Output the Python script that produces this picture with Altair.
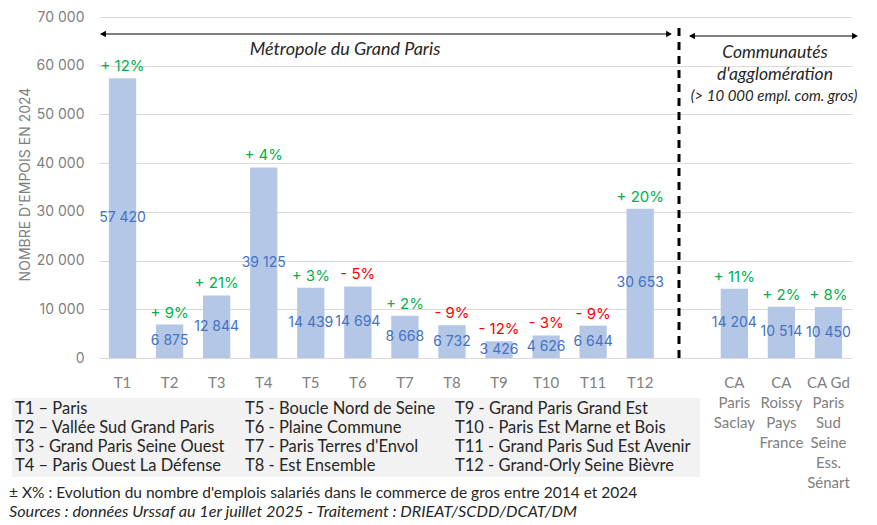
import altair as alt
import pandas as pd

# ---------------- data ----------------
categories = ["T1", "T2", "T3", "T4", "T5", "T6", "T7", "T8", "T9", "T10", "T11", "T12",
              "CA|Paris|Saclay", "CA|Roissy|Pays|France", "CA Gd|Paris|Sud|Seine|Ess.|Sénart"]
values = [57420, 6875, 12844, 39125, 14439, 14694, 8668, 6732, 3426, 4626, 6644, 30653,
          14204, 10514, 10450]
evolution = [12, 9, 21, 4, 3, -5, 2, -9, -12, -3, -9, 20, 11, 2, 8]
gap = "_"
domain = categories[:12] + [gap] + categories[12:]
y_ticks = [0, 10000, 20000, 30000, 40000, 50000, 60000, 70000]

legend_col1 = ["T1 – Paris", "T2 – Vallée Sud Grand Paris", "T3 - Grand Paris Seine Ouest",
               "T4 – Paris Ouest La Défense"]
legend_col2 = ["T5 - Boucle Nord de Seine", "T6 - Plaine Commune", "T7 - Paris Terres d'Envol",
               "T8 - Est Ensemble"]
legend_col3 = ["T9 - Grand Paris Grand Est", "T10 - Paris Est Marne et Bois",
               "T11 - Grand Paris Sud Est Avenir", "T12 - Grand-Orly Seine Bièvre"]
note1 = "± X% : Evolution du nombre d'emplois salariés dans le commerce de gros entre 2014 et 2024"
note2 = "Sources : données Urssaf au 1er juillet 2025 - Traitement : DRIEAT/SCDD/DCAT/DM"

df = pd.DataFrame({
    "cat": categories,
    "value": values,
    "evo": evolution,
})
df["half"] = df["value"] / 2
df["vlabel"] = [f"{v:,}".replace(",", " ") for v in values]
df["plabel"] = [("+ " if e >= 0 else "- ") + f"{abs(e)}%" for e in evolution]
df["pcolor"] = ["#00B050" if e >= 0 else "#FF0000" for e in evolution]

one = pd.DataFrame({"k": [0]})

NUMFONT = "Inter"
TXTFONT = "Lato"
GRAY = "#808080"
DARK = "#262626"

x_enc = alt.X(
    "cat:N",
    scale=alt.Scale(domain=domain, paddingInner=0.42, paddingOuter=0.21),
    sort=domain,
    title=None,
    axis=alt.Axis(
        labelExpr="datum.label == '_' ? '' : split(datum.label, '|')",
        labelAngle=0, labelFont=TXTFONT, labelFontSize=15, labelColor=GRAY,
        labelLineHeight=20, labelPadding=17, ticks=False, domain=False, grid=False,
    ),
)
y_enc = alt.Y(
    "value:Q",
    scale=alt.Scale(domain=[0, 70000], nice=False),
    axis=alt.Axis(
        values=y_ticks,
        labelExpr="replace(format(datum.value, ','), ',', ' ')",
        labelFont=NUMFONT, labelFontSize=14, labelColor=GRAY, labelPadding=15,
        ticks=False, domain=False, gridColor="#D9D9D9", gridWidth=1,
        title="NOMBRE D'EMPOIS EN 2024", titleFont=NUMFONT, titleFontSize=14,
        titleFontWeight="normal", titleColor=GRAY, titleAngle=270,
        titleX=-74, titleY=167, titleAlign="center", titleBaseline="middle",
    ),
)

base = alt.Chart(df)
bars = base.mark_bar(color="#B4C7E7").encode(x=x_enc, y=y_enc)
vlabels = base.mark_text(font=NUMFONT, fontSize=14, color="#4472C4", baseline="middle").encode(
    x=alt.X("cat:N", sort=domain), y=alt.Y("half:Q"), text="vlabel:N")
plabels = base.mark_text(font=NUMFONT, fontSize=15, baseline="alphabetic", dy=-7).encode(
    x=alt.X("cat:N", sort=domain), y=alt.Y("value:Q"), text="plabel:N",
    color=alt.Color("pcolor:N", scale=None))

ann = alt.Chart(one)
# dashed separator
sep = ann.mark_rule(color="black", strokeWidth=3, strokeDash=[8, 6]).encode(
    x=alt.value(580), y=alt.value(11), y2=alt.value(341))
# arrows
arr1 = ann.mark_rule(color="black", strokeWidth=1).encode(
    x=alt.value(2), x2=alt.value(571), y=alt.value(17))
arr1l = ann.mark_point(shape="triangle-left", filled=True, size=45, color="black", opacity=1).encode(
    x=alt.value(4), y=alt.value(17))
arr1r = ann.mark_point(shape="triangle-right", filled=True, size=45, color="black", opacity=1).encode(
    x=alt.value(570), y=alt.value(17))
arr2 = ann.mark_rule(color="black", strokeWidth=1).encode(
    x=alt.value(591), x2=alt.value(757), y=alt.value(19))
arr2l = ann.mark_point(shape="triangle-left", filled=True, size=45, color="black", opacity=1).encode(
    x=alt.value(593), y=alt.value(19))
arr2r = ann.mark_point(shape="triangle-right", filled=True, size=45, color="black", opacity=1).encode(
    x=alt.value(756), y=alt.value(19))

t_mgp = ann.mark_text(text="Métropole du Grand Paris", font=TXTFONT, fontSize=18, fontStyle="italic",
                      color=DARK, baseline="middle", align="center").encode(
    x=alt.value(246), y=alt.value(33))
t_ca1 = ann.mark_text(text="Communautés", font=TXTFONT, fontSize=17.5, fontStyle="italic",
                      color=DARK, baseline="middle", align="center").encode(
    x=alt.value(676), y=alt.value(36))
t_ca2 = ann.mark_text(text="d'agglomération", font=TXTFONT, fontSize=17.5, fontStyle="italic",
                      color=DARK, baseline="middle", align="center").encode(
    x=alt.value(676), y=alt.value(58))
t_ca3 = ann.mark_text(text="(> 10 000 empl. com. gros)", font=TXTFONT, fontSize=15, fontStyle="italic",
                      color=DARK, baseline="middle", align="center").encode(
    x=alt.value(675), y=alt.value(79))

# legend box
box = ann.mark_rect(color="#F2F2F2").encode(
    x=alt.value(-87), x2=alt.value(601), y=alt.value(381), y2=alt.value(460))
leg_style = dict(font=TXTFONT, fontSize=16.5, color=DARK, align="left",
                 baseline="middle", lineHeight=19)
leg1 = ann.mark_text(text=legend_col1, **leg_style).encode(x=alt.value(-84), y=alt.value(392))
leg2 = ann.mark_text(text=legend_col2, **leg_style).encode(x=alt.value(146), y=alt.value(392))
leg3 = ann.mark_text(text=legend_col3, **leg_style).encode(x=alt.value(356), y=alt.value(392))

n1 = ann.mark_text(text=note1, font=TXTFONT, fontSize=15.5, color=DARK, align="left",
                   baseline="middle").encode(x=alt.value(-90), y=alt.value(476))
n2 = ann.mark_text(text=note2, font=TXTFONT, fontSize=16.2, fontStyle="italic", color=DARK,
                   align="left", baseline="middle").encode(x=alt.value(-90), y=alt.value(495))

chart = alt.layer(
    bars, vlabels, plabels, sep, arr1, arr1l, arr1r, arr2, arr2l, arr2r,
    t_mgp, t_ca1, t_ca2, t_ca3, box, leg1, leg2, leg3, n1, n2,
).properties(
    width=753, height=341,
    padding={"left": 91, "top": 9, "right": 15, "bottom": 162},
    autosize=alt.AutoSizeParams(type="none"),
    background="white",
).configure_view(stroke=None)

chart.save("out.html", embed_options={"renderer": "svg", "actions": False})
